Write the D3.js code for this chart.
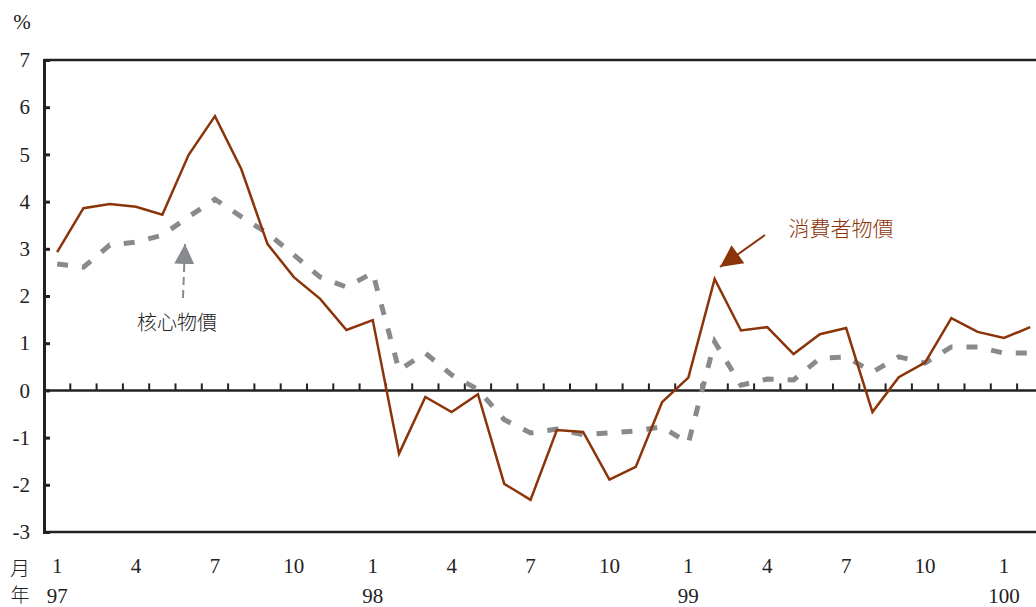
<!DOCTYPE html>
<html>
<head>
<meta charset="utf-8">
<script src="https://cdn.jsdelivr.net/npm/d3@7"></script>
<style>
  body { margin: 0; background: #fff; }
  text { font-family: "Liberation Serif", serif; fill: #222; }
  .cjk { font-family: "Noto Sans CJK TC", sans-serif; font-weight: 300; }
</style>
</head>
<body>
<div class="chart"></div>
<script>
// data (year-on-year %, 97/1 .. 100/2)
const months = [1,2,3,4,5,6,7,8,9,10,11,12, 1,2,3,4,5,6,7,8,9,10,11,12,
                1,2,3,4,5,6,7,8,9,10,11,12, 1,2];
const years = [97,97,97,97,97,97,97,97,97,97,97,97, 98,98,98,98,98,98,98,98,98,98,98,98,
               99,99,99,99,99,99,99,99,99,99,99,99, 100,100];
const cpi = [2.93, 3.86, 3.95, 3.89, 3.72, 4.99, 5.81, 4.69, 3.10, 2.40, 1.94, 1.28,
             1.49, -1.34, -0.14, -0.46, -0.08, -1.98, -2.32, -0.84, -0.88, -1.89, -1.62, -0.25,
             0.27, 2.36, 1.27, 1.34, 0.77, 1.19, 1.32, -0.46, 0.28, 0.59, 1.53, 1.24, 1.11, 1.34];
const core = [2.68, 2.61, 3.08, 3.14, 3.29, 3.68, 4.05, 3.68, 3.33, 2.87, 2.40, 2.19,
              2.49, 0.43, 0.79, 0.33, 0.02, -0.62, -0.90, -0.82, -0.94, -0.90, -0.86, -0.77,
              -1.12, 1.03, 0.11, 0.24, 0.22, 0.68, 0.71, 0.39, 0.71, 0.58, 0.92, 0.92, 0.79, 0.79];
const yTicks = [-3,-2,-1,0,1,2,3,4,5,6,7];
const monthLabels = [1,4,7,10];

const W = 1036, H = 607;
const margin = ({top: 60, left: 44, bottom: 75});
const bandW = 26.3;

const svg = d3.select(".chart").append("svg")
    .attr("width", W)
    .attr("height", H);

const idx = d3.range(months.length);
const xScale = d3.scaleBand()
    .domain(idx)
    .range([margin.left, margin.left + bandW * idx.length]);
const xc = i => xScale(i) + xScale.bandwidth() / 2;
const yScale = d3.scaleLinear()
    .domain([-3, 7])
    .range([H - margin.bottom, margin.top]);

// frame lines
const right = W + 5;
svg.append("line")
    .attr("x1", margin.left).attr("x2", right)
    .attr("y1", yScale(7)).attr("y2", yScale(7))
    .attr("stroke", "#222").attr("stroke-width", 2.5);
svg.append("line")
    .attr("x1", margin.left).attr("x2", right)
    .attr("y1", yScale(-3)).attr("y2", yScale(-3))
    .attr("stroke", "#222").attr("stroke-width", 2.5);

// y axis
const yAxis = d3.axisLeft(yScale).tickValues(yTicks).tickSize(-6).tickPadding(14)
    .tickFormat(d => String(d));
const gy = svg.append("g")
    .attr("class", "axis y-axis")
    .attr("transform", "translate(" + margin.left + ",0)")
    .call(yAxis);
gy.select(".domain").attr("stroke", "#222").attr("stroke-width", 3);
gy.selectAll(".tick line").attr("stroke", "#222").attr("stroke-width", 3);
gy.selectAll(".tick text").attr("font-size", 21).attr("fill", "#222")
    .style("font-family", "'Liberation Serif', serif");

// zero line with month ticks at band edges
svg.append("line")
    .attr("x1", margin.left).attr("x2", right)
    .attr("y1", yScale(0)).attr("y2", yScale(0))
    .attr("stroke", "#222").attr("stroke-width", 2.5);
svg.append("g").selectAll("line")
    .data(idx.slice(1))
    .join("line")
    .attr("x1", d => xScale(d)).attr("x2", d => xScale(d))
    .attr("y1", yScale(0)).attr("y2", yScale(0) - 7)
    .attr("stroke", "#222").attr("stroke-width", 2);

// x labels
svg.append("g").selectAll("text")
    .data(idx.filter(i => monthLabels.includes(months[i])))
    .join("text")
    .attr("x", d => xc(d))
    .attr("y", 573)
    .attr("text-anchor", "middle")
    .attr("font-size", 21)
    .text(d => months[d]);
svg.append("g").selectAll("text")
    .data(idx.filter(i => months[i] === 1))
    .join("text")
    .attr("x", d => xc(d))
    .attr("y", 603)
    .attr("text-anchor", "middle")
    .attr("font-size", 21)
    .text(d => years[d]);
svg.append("text").attr("class", "cjk")
    .attr("x", 20).attr("y", 576).attr("text-anchor", "middle")
    .attr("font-size", 20).text("月");
svg.append("text").attr("class", "cjk")
    .attr("x", 20).attr("y", 602).attr("text-anchor", "middle")
    .attr("font-size", 19).text("年");
svg.append("text")
    .attr("x", 22).attr("y", 29).attr("text-anchor", "middle")
    .attr("font-size", 21).text("%");

// lines
const line = d3.line().x((d, i) => xc(i)).y(d => yScale(d));
svg.append("path")
    .datum(core)
    .attr("fill", "none")
    .attr("stroke", "#888a8d")
    .attr("stroke-width", 5)
    .attr("stroke-dasharray", "11,14")
    .attr("d", line);
svg.append("path")
    .datum(cpi)
    .attr("fill", "none")
    .attr("stroke", "#8b3409")
    .attr("stroke-width", 2.5)
    .attr("stroke-linejoin", "miter")
    .attr("d", line);

// annotations
const defs = svg.append("defs");
defs.append("marker").attr("id", "arrGray")
    .attr("viewBox", "0 0 10 10").attr("refX", 10).attr("refY", 5)
    .attr("markerWidth", 20).attr("markerHeight", 20).attr("markerUnits", "userSpaceOnUse")
    .attr("orient", "auto")
    .append("path").attr("d", "M0,0L10,5L0,10Z").attr("fill", "#888a8d");
defs.append("marker").attr("id", "arrBrown")
    .attr("viewBox", "0 0 10 10").attr("refX", 10).attr("refY", 5)
    .attr("markerWidth", 26).attr("markerHeight", 22).attr("markerUnits", "userSpaceOnUse")
    .attr("orient", "auto")
    .append("path").attr("d", "M0,0L10,5L0,10Z").attr("fill", "#8b3409");

svg.append("line")
    .attr("x1", 183).attr("y1", 298).attr("x2", 185).attr("y2", 244)
    .attr("stroke", "#888a8d").attr("stroke-width", 2)
    .attr("stroke-dasharray", "8,5")
    .attr("marker-end", "url(#arrGray)");
svg.append("text").attr("class", "cjk")
    .attr("x", 177).attr("y", 330).attr("text-anchor", "middle")
    .attr("font-size", 20).text("核心物價");

svg.append("line")
    .attr("x1", 765).attr("y1", 235).attr("x2", 720).attr("y2", 267)
    .attr("stroke", "#8b3409").attr("stroke-width", 2)
    .attr("marker-end", "url(#arrBrown)");
svg.append("text").attr("class", "cjk")
    .attr("x", 841).attr("y", 236).attr("text-anchor", "middle")
    .attr("font-size", 21).style("fill", "#8b3409").text("消費者物價");
</script>
</body>
</html>
